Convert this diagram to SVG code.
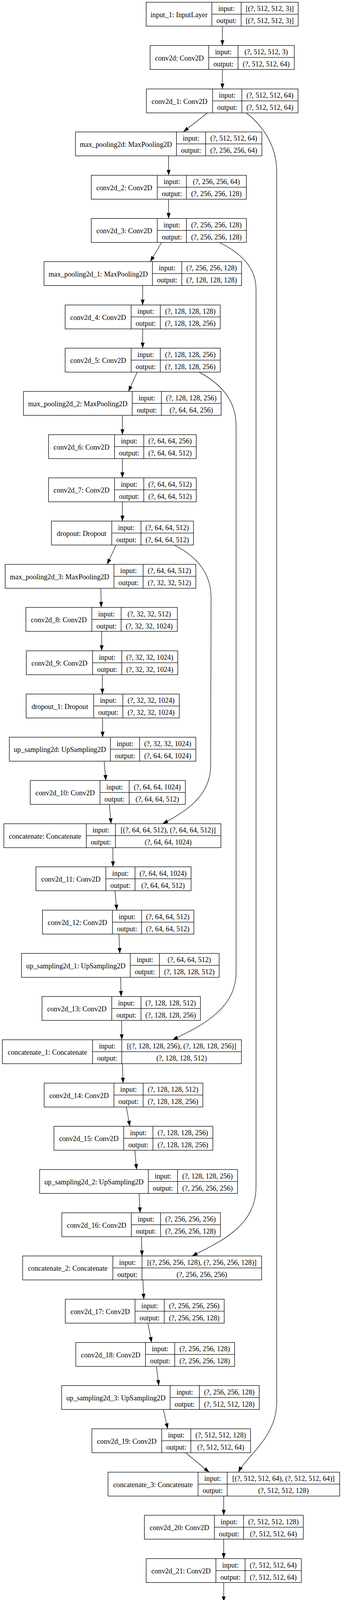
<svg xmlns="http://www.w3.org/2000/svg" width="875" height="4279" viewBox="0 0 875 4279">
<defs>
<marker id="ah" viewBox="0 0 14 10" refX="14" refY="5" markerWidth="14" markerHeight="10" markerUnits="userSpaceOnUse" orient="auto"><path d="M0,0L14,5L0,10z" fill="#000"/></marker>
<style>
.n rect{fill:#fff;stroke:#000;stroke-width:1.3}
.n path{fill:none;stroke:#000;stroke-width:1.3}
.n text{font-family:"Liberation Serif","Times New Roman",serif;font-size:18.2px;text-anchor:middle;fill:#000}
.e path{fill:none;stroke:#000;stroke-width:1.2;marker-end:url(#ah)}
</style>
</defs>
<rect width="875" height="4279" fill="#fff"/>
<g id="edges" class="e">
<path d="M569,67.3L569,116.5"/>
<path d="M569,178L569,227.7"/>
<path d="M531,289L469.3,337.3"/>
<path d="M630,289C670,320 708,370 708,440L708,3590C708,3680 628,3730 610.4,3768.7"/>
<path d="M431.4,399L431.4,448.7"/>
<path d="M431.4,510L431.4,559.3"/>
<path d="M413.5,620.7L384.6,669.7"/>
<path d="M561.3,620.7C610,645 655,680 655,740L655,3040C655,3140 560,3180 491.6,3215.3"/>
<path d="M365,731L365,780.7"/>
<path d="M365,842L365,891.3"/>
<path d="M351,952.6L328.8,1002"/>
<path d="M509.4,952.6C560,980 604,1020 604,1090L604,2490C604,2580 520,2625 441.4,2661.7"/>
<path d="M313.2,1063.3L313.2,1112.7"/>
<path d="M313.2,1174L313.2,1223.3"/>
<path d="M313.2,1284.6L313.2,1334"/>
<path d="M297,1395.3L274.2,1444.7"/>
<path d="M445.3,1395.3C495,1420 540,1460 540,1530L539,1960C539,2040 470,2080 416.3,2108.7"/>
<path d="M258,1506L259,1555"/>
<path d="M260.2,1616.3L260.2,1666"/>
<path d="M261.9,1727.3L261.9,1776.7"/>
<path d="M262.5,1838L262.5,1887.3"/>
<path d="M266.4,1948.6L270.8,1998"/>
<path d="M279.8,2059.3L284.2,2108.7"/>
<path d="M288.7,2170L289.2,2219"/>
<path d="M294.2,2280.3L298.7,2330"/>
<path d="M304.3,2391.3L306.5,2440.7"/>
<path d="M308.7,2502L309.9,2551"/>
<path d="M311,2612.3L311.5,2661.7"/>
<path d="M313.2,2723L314.9,2772.7"/>
<path d="M323.2,2834L332.2,2883.3"/>
<path d="M345,2944.6L349.4,2994"/>
<path d="M356,3055.3L358.4,3104.7"/>
<path d="M361.7,3166L363.4,3215.3"/>
<path d="M365.6,3276.6L367.8,3326"/>
<path d="M378.4,3387.3L387.9,3436.7"/>
<path d="M400.2,3498L406.3,3547"/>
<path d="M418,3608.3L429.2,3657.7"/>
<path d="M474.9,3719L535,3768.7"/>
<path d="M572.4,3830L572.4,3879"/>
<path d="M572.4,3940.3L572.4,3990"/>
<path d="M572.4,4051.3L572.4,4100.7"/>
<path d="M572.4,4162L572.4,4211.3"/>
</g>
<g id="input_1" class="n" transform="translate(374,5.7)"><rect width="389" height="61.3"/><path d="M168,0V61.3M243,0V61.3M168,30.65H389"/><text x="84" y="38.2">input_1: InputLayer</text><text x="205.5" y="22.8">input:</text><text x="205.5" y="53.5">output:</text><text x="316" y="22.8">[(?, 512, 512, 3)]</text><text x="316" y="53.5">[(?, 512, 512, 3)]</text></g>
<g id="conv2d" class="n" transform="translate(384,116.5)"><rect width="369" height="61.3"/><path d="M150,0V61.3M225,0V61.3M150,30.65H369"/><text x="75" y="38.2">conv2d: Conv2D</text><text x="187.5" y="22.8">input:</text><text x="187.5" y="53.5">output:</text><text x="297" y="22.8">(?, 512, 512, 3)</text><text x="297" y="53.5">(?, 512, 512, 64)</text></g>
<g id="conv2d_1" class="n" transform="translate(374.5,227.7)"><rect width="388" height="61.3"/><path d="M169.5,0V61.3M244.2,0V61.3M169.5,30.65H388"/><text x="84.75" y="38.2">conv2d_1: Conv2D</text><text x="206.85" y="22.8">input:</text><text x="206.85" y="53.5">output:</text><text x="316.1" y="22.8">(?, 512, 512, 64)</text><text x="316.1" y="53.5">(?, 512, 512, 64)</text></g>
<g id="max_pooling2d" class="n" transform="translate(193,337.7)"><rect width="477" height="61.3"/><path d="M258.5,0V61.3M333,0V61.3M258.5,30.65H477"/><text x="129.25" y="38.2">max_pooling2d: MaxPooling2D</text><text x="295.75" y="22.8">input:</text><text x="295.75" y="53.5">output:</text><text x="405" y="22.8">(?, 512, 512, 64)</text><text x="405" y="53.5">(?, 256, 256, 64)</text></g>
<g id="conv2d_2" class="n" transform="translate(233.5,448.7)"><rect width="396.9" height="61.3"/><path d="M168.9,0V61.3M243.5,0V61.3M168.9,30.65H396.9"/><text x="84.45" y="38.2">conv2d_2: Conv2D</text><text x="206.2" y="22.8">input:</text><text x="206.2" y="53.5">output:</text><text x="320.2" y="22.8">(?, 256, 256, 64)</text><text x="320.2" y="53.5">(?, 256, 256, 128)</text></g>
<g id="conv2d_3" class="n" transform="translate(233.5,559.3)"><rect width="396.9" height="61.3"/><path d="M168.9,0V61.3M243.5,0V61.3M168.9,30.65H396.9"/><text x="84.45" y="38.2">conv2d_3: Conv2D</text><text x="206.2" y="22.8">input:</text><text x="206.2" y="53.5">output:</text><text x="320.2" y="22.8">(?, 256, 256, 128)</text><text x="320.2" y="53.5">(?, 256, 256, 128)</text></g>
<g id="max_pooling2d_1" class="n" transform="translate(112.5,669.7)"><rect width="505.5" height="61.3"/><path d="M277.5,0V61.3M352.5,0V61.3M277.5,30.65H505.5"/><text x="138.75" y="38.2">max_pooling2d_1: MaxPooling2D</text><text x="315" y="22.8">input:</text><text x="315" y="53.5">output:</text><text x="429" y="22.8">(?, 256, 256, 128)</text><text x="429" y="53.5">(?, 128, 128, 128)</text></g>
<g id="conv2d_4" class="n" transform="translate(166.6,780.7)"><rect width="396.9" height="61.3"/><path d="M168.9,0V61.3M243.6,0V61.3M168.9,30.65H396.9"/><text x="84.45" y="38.2">conv2d_4: Conv2D</text><text x="206.25" y="22.8">input:</text><text x="206.25" y="53.5">output:</text><text x="320.25" y="22.8">(?, 128, 128, 128)</text><text x="320.25" y="53.5">(?, 128, 128, 256)</text></g>
<g id="conv2d_5" class="n" transform="translate(166.6,891.3)"><rect width="396.9" height="61.3"/><path d="M168.9,0V61.3M243.6,0V61.3M168.9,30.65H396.9"/><text x="84.45" y="38.2">conv2d_5: Conv2D</text><text x="206.25" y="22.8">input:</text><text x="206.25" y="53.5">output:</text><text x="320.25" y="22.8">(?, 128, 128, 256)</text><text x="320.25" y="53.5">(?, 128, 128, 256)</text></g>
<g id="max_pooling2d_2" class="n" transform="translate(60,1002)"><rect width="505.7" height="61.3"/><path d="M278.3,0V61.3M353,0V61.3M278.3,30.65H505.7"/><text x="139.15" y="38.2">max_pooling2d_2: MaxPooling2D</text><text x="315.65" y="22.8">input:</text><text x="315.65" y="53.5">output:</text><text x="429.35" y="22.8">(?, 128, 128, 256)</text><text x="429.35" y="53.5">(?, 64, 64, 256)</text></g>
<g id="conv2d_6" class="n" transform="translate(124.2,1112.7)"><rect width="378" height="61.3"/><path d="M168.8,0V61.3M243.6,0V61.3M168.8,30.65H378"/><text x="84.4" y="38.2">conv2d_6: Conv2D</text><text x="206.2" y="22.8">input:</text><text x="206.2" y="53.5">output:</text><text x="310.8" y="22.8">(?, 64, 64, 256)</text><text x="310.8" y="53.5">(?, 64, 64, 512)</text></g>
<g id="conv2d_7" class="n" transform="translate(124.2,1223.3)"><rect width="378" height="61.3"/><path d="M168.8,0V61.3M243.6,0V61.3M168.8,30.65H378"/><text x="84.4" y="38.2">conv2d_7: Conv2D</text><text x="206.2" y="22.8">input:</text><text x="206.2" y="53.5">output:</text><text x="310.8" y="22.8">(?, 64, 64, 512)</text><text x="310.8" y="53.5">(?, 64, 64, 512)</text></g>
<g id="dropout" class="n" transform="translate(131.5,1334)"><rect width="363.5" height="61.3"/><path d="M154.4,0V61.3M229.1,0V61.3M154.4,30.65H363.5"/><text x="77.2" y="38.2">dropout: Dropout</text><text x="191.75" y="22.8">input:</text><text x="191.75" y="53.5">output:</text><text x="296.3" y="22.8">(?, 64, 64, 512)</text><text x="296.3" y="53.5">(?, 64, 64, 512)</text></g>
<g id="max_pooling2d_3" class="n" transform="translate(13.3,1444.7)"><rect width="487.7" height="61.3"/><path d="M278.2,0V61.3M352.9,0V61.3M278.2,30.65H487.7"/><text x="139.1" y="38.2">max_pooling2d_3: MaxPooling2D</text><text x="315.55" y="22.8">input:</text><text x="315.55" y="53.5">output:</text><text x="420.3" y="22.8">(?, 64, 64, 512)</text><text x="420.3" y="53.5">(?, 32, 32, 512)</text></g>
<g id="conv2d_8" class="n" transform="translate(66.2,1555)"><rect width="387.5" height="61.3"/><path d="M168.8,0V61.3M243.7,0V61.3M168.8,30.65H387.5"/><text x="84.4" y="38.2">conv2d_8: Conv2D</text><text x="206.25" y="22.8">input:</text><text x="206.25" y="53.5">output:</text><text x="315.6" y="22.8">(?, 32, 32, 512)</text><text x="315.6" y="53.5">(?, 32, 32, 1024)</text></g>
<g id="conv2d_9" class="n" transform="translate(67.3,1666)"><rect width="387.5" height="61.3"/><path d="M169.5,0V61.3M244.2,0V61.3M169.5,30.65H387.5"/><text x="84.75" y="38.2">conv2d_9: Conv2D</text><text x="206.85" y="22.8">input:</text><text x="206.85" y="53.5">output:</text><text x="315.85" y="22.8">(?, 32, 32, 1024)</text><text x="315.85" y="53.5">(?, 32, 32, 1024)</text></g>
<g id="dropout_1" class="n" transform="translate(66.8,1776.7)"><rect width="391.9" height="61.3"/><path d="M172.8,0V61.3M247.5,0V61.3M172.8,30.65H391.9"/><text x="86.4" y="38.2">dropout_1: Dropout</text><text x="210.15" y="22.8">input:</text><text x="210.15" y="53.5">output:</text><text x="319.7" y="22.8">(?, 32, 32, 1024)</text><text x="319.7" y="53.5">(?, 32, 32, 1024)</text></g>
<g id="up_sampling2d" class="n" transform="translate(23.9,1887.3)"><rect width="477.1" height="61.3"/><path d="M258.6,0V61.3M333.3,0V61.3M258.6,30.65H477.1"/><text x="129.3" y="38.2">up_sampling2d: UpSampling2D</text><text x="295.95" y="22.8">input:</text><text x="295.95" y="53.5">output:</text><text x="405.2" y="22.8">(?, 32, 32, 1024)</text><text x="405.2" y="53.5">(?, 64, 64, 1024)</text></g>
<g id="conv2d_10" class="n" transform="translate(77.4,1998)"><rect width="396.9" height="61.3"/><path d="M178.4,0V61.3M253.1,0V61.3M178.4,30.65H396.9"/><text x="89.2" y="38.2">conv2d_10: Conv2D</text><text x="215.75" y="22.8">input:</text><text x="215.75" y="53.5">output:</text><text x="325" y="22.8">(?, 64, 64, 1024)</text><text x="325" y="53.5">(?, 64, 64, 512)</text></g>
<g id="concatenate" class="n" transform="translate(9.9,2108.7)"><rect width="555.3" height="61.3"/><path d="M210.8,0V61.3M285.5,0V61.3M210.8,30.65H555.3"/><text x="105.4" y="38.2">concatenate: Concatenate</text><text x="248.15" y="22.8">input:</text><text x="248.15" y="53.5">output:</text><text x="420.4" y="22.8">[(?, 64, 64, 512), (?, 64, 64, 512)]</text><text x="420.4" y="53.5">(?, 64, 64, 1024)</text></g>
<g id="conv2d_11" class="n" transform="translate(91.9,2219)"><rect width="396.9" height="61.3"/><path d="M178.9,0V61.3M253.6,0V61.3M178.9,30.65H396.9"/><text x="89.45" y="38.2">conv2d_11: Conv2D</text><text x="216.25" y="22.8">input:</text><text x="216.25" y="53.5">output:</text><text x="325.25" y="22.8">(?, 64, 64, 1024)</text><text x="325.25" y="53.5">(?, 64, 64, 512)</text></g>
<g id="conv2d_12" class="n" transform="translate(108.6,2330)"><rect width="387.4" height="61.3"/><path d="M179,0V61.3M253.7,0V61.3M179,30.65H387.4"/><text x="89.5" y="38.2">conv2d_12: Conv2D</text><text x="216.35" y="22.8">input:</text><text x="216.35" y="53.5">output:</text><text x="320.55" y="22.8">(?, 64, 64, 512)</text><text x="320.55" y="53.5">(?, 64, 64, 512)</text></g>
<g id="up_sampling2d_1" class="n" transform="translate(55,2440.7)"><rect width="505.7" height="61.3"/><path d="M278.3,0V61.3M353,0V61.3M278.3,30.65H505.7"/><text x="139.15" y="38.2">up_sampling2d_1: UpSampling2D</text><text x="315.65" y="22.8">input:</text><text x="315.65" y="53.5">output:</text><text x="429.35" y="22.8">(?, 64, 64, 512)</text><text x="429.35" y="53.5">(?, 128, 128, 512)</text></g>
<g id="conv2d_13" class="n" transform="translate(107.5,2551)"><rect width="405.3" height="61.3"/><path d="M178.4,0V61.3M253.1,0V61.3M178.4,30.65H405.3"/><text x="89.2" y="38.2">conv2d_13: Conv2D</text><text x="215.75" y="22.8">input:</text><text x="215.75" y="53.5">output:</text><text x="329.2" y="22.8">(?, 128, 128, 512)</text><text x="329.2" y="53.5">(?, 128, 128, 256)</text></g>
<g id="concatenate_1" class="n" transform="translate(6,2661.7)"><rect width="611.6" height="61.3"/><path d="M230.8,0V61.3M305.5,0V61.3M230.8,30.65H611.6"/><text x="115.4" y="38.2">concatenate_1: Concatenate</text><text x="268.15" y="22.8">input:</text><text x="268.15" y="53.5">output:</text><text x="458.55" y="22.8">[(?, 128, 128, 256), (?, 128, 128, 256)]</text><text x="458.55" y="53.5">(?, 128, 128, 512)</text></g>
<g id="conv2d_14" class="n" transform="translate(113,2772.7)"><rect width="406" height="61.3"/><path d="M178.5,0V61.3M253.2,0V61.3M178.5,30.65H406"/><text x="89.25" y="38.2">conv2d_14: Conv2D</text><text x="215.85" y="22.8">input:</text><text x="215.85" y="53.5">output:</text><text x="329.6" y="22.8">(?, 128, 128, 512)</text><text x="329.6" y="53.5">(?, 128, 128, 256)</text></g>
<g id="conv2d_15" class="n" transform="translate(138,2883.3)"><rect width="406.6" height="61.3"/><path d="M178.5,0V61.3M253.3,0V61.3M178.5,30.65H406.6"/><text x="89.25" y="38.2">conv2d_15: Conv2D</text><text x="215.9" y="22.8">input:</text><text x="215.9" y="53.5">output:</text><text x="329.95" y="22.8">(?, 128, 128, 256)</text><text x="329.95" y="53.5">(?, 128, 128, 256)</text></g>
<g id="up_sampling2d_2" class="n" transform="translate(101.4,2994)"><rect width="506.2" height="61.3"/><path d="M278.1,0V61.3M352.9,0V61.3M278.1,30.65H506.2"/><text x="139.05" y="38.2">up_sampling2d_2: UpSampling2D</text><text x="315.5" y="22.8">input:</text><text x="315.5" y="53.5">output:</text><text x="429.55" y="22.8">(?, 128, 128, 256)</text><text x="429.55" y="53.5">(?, 256, 256, 256)</text></g>
<g id="conv2d_16" class="n" transform="translate(158.2,3104.7)"><rect width="405.8" height="61.3"/><path d="M177.8,0V61.3M252.6,0V61.3M177.8,30.65H405.8"/><text x="88.9" y="38.2">conv2d_16: Conv2D</text><text x="215.2" y="22.8">input:</text><text x="215.2" y="53.5">output:</text><text x="329.2" y="22.8">(?, 256, 256, 256)</text><text x="329.2" y="53.5">(?, 256, 256, 128)</text></g>
<g id="concatenate_2" class="n" transform="translate(57.9,3215.3)"><rect width="611.5" height="61.3"/><path d="M230.8,0V61.3M305.5,0V61.3M230.8,30.65H611.5"/><text x="115.4" y="38.2">concatenate_2: Concatenate</text><text x="268.15" y="22.8">input:</text><text x="268.15" y="53.5">output:</text><text x="458.5" y="22.8">[(?, 256, 256, 128), (?, 256, 256, 128)]</text><text x="458.5" y="53.5">(?, 256, 256, 256)</text></g>
<g id="conv2d_17" class="n" transform="translate(167,3326)"><rect width="406.6" height="61.3"/><path d="M178.5,0V61.3M253.2,0V61.3M178.5,30.65H406.6"/><text x="89.25" y="38.2">conv2d_17: Conv2D</text><text x="215.85" y="22.8">input:</text><text x="215.85" y="53.5">output:</text><text x="329.9" y="22.8">(?, 256, 256, 256)</text><text x="329.9" y="53.5">(?, 256, 256, 128)</text></g>
<g id="conv2d_18" class="n" transform="translate(193.9,3436.7)"><rect width="406.4" height="61.3"/><path d="M178.4,0V61.3M253.1,0V61.3M178.4,30.65H406.4"/><text x="89.2" y="38.2">conv2d_18: Conv2D</text><text x="215.75" y="22.8">input:</text><text x="215.75" y="53.5">output:</text><text x="329.75" y="22.8">(?, 256, 256, 128)</text><text x="329.75" y="53.5">(?, 256, 256, 128)</text></g>
<g id="up_sampling2d_3" class="n" transform="translate(157.7,3547)"><rect width="505.6" height="61.3"/><path d="M277.6,0V61.3M352.3,0V61.3M277.6,30.65H505.6"/><text x="138.8" y="38.2">up_sampling2d_3: UpSampling2D</text><text x="314.95" y="22.8">input:</text><text x="314.95" y="53.5">output:</text><text x="428.95" y="22.8">(?, 256, 256, 128)</text><text x="428.95" y="53.5">(?, 512, 512, 128)</text></g>
<g id="conv2d_19" class="n" transform="translate(235,3657.7)"><rect width="406" height="61.3"/><path d="M178.6,0V61.3M253.3,0V61.3M178.6,30.65H406"/><text x="89.3" y="38.2">conv2d_19: Conv2D</text><text x="215.95" y="22.8">input:</text><text x="215.95" y="53.5">output:</text><text x="329.65" y="22.8">(?, 512, 512, 128)</text><text x="329.65" y="53.5">(?, 512, 512, 64)</text></g>
<g id="concatenate_3" class="n" transform="translate(276.4,3768.7)"><rect width="592.6" height="61.3"/><path d="M230.3,0V61.3M305,0V61.3M230.3,30.65H592.6"/><text x="115.15" y="38.2">concatenate_3: Concatenate</text><text x="267.65" y="22.8">input:</text><text x="267.65" y="53.5">output:</text><text x="448.8" y="22.8">[(?, 512, 512, 64), (?, 512, 512, 64)]</text><text x="448.8" y="53.5">(?, 512, 512, 128)</text></g>
<g id="conv2d_20" class="n" transform="translate(369.5,3879)"><rect width="406.5" height="61.3"/><path d="M179,0V61.3M253.7,0V61.3M179,30.65H406.5"/><text x="89.5" y="38.2">conv2d_20: Conv2D</text><text x="216.35" y="22.8">input:</text><text x="216.35" y="53.5">output:</text><text x="330.1" y="22.8">(?, 512, 512, 128)</text><text x="330.1" y="53.5">(?, 512, 512, 64)</text></g>
<g id="conv2d_21" class="n" transform="translate(374,3990)"><rect width="397" height="61.3"/><path d="M178.4,0V61.3M253,0V61.3M178.4,30.65H397"/><text x="89.2" y="38.2">conv2d_21: Conv2D</text><text x="215.7" y="22.8">input:</text><text x="215.7" y="53.5">output:</text><text x="325" y="22.8">(?, 512, 512, 64)</text><text x="325" y="53.5">(?, 512, 512, 64)</text></g>
<g id="conv2d_22" class="n" transform="translate(374,4100.7)"><rect width="397" height="61.3"/><path d="M178.4,0V61.3M253,0V61.3M178.4,30.65H397"/><text x="89.2" y="38.2">conv2d_22: Conv2D</text><text x="215.7" y="22.8">input:</text><text x="215.7" y="53.5">output:</text><text x="325" y="22.8">(?, 512, 512, 64)</text><text x="325" y="53.5">(?, 512, 512, 2)</text></g>
<g id="conv2d_23" class="n" transform="translate(379,4211.3)"><rect width="387.5" height="61.3"/><path d="M178.4,0V61.3M253,0V61.3M178.4,30.65H387.5"/><text x="89.2" y="38.2">conv2d_23: Conv2D</text><text x="215.7" y="22.8">input:</text><text x="215.7" y="53.5">output:</text><text x="320.25" y="22.8">(?, 512, 512, 2)</text><text x="320.25" y="53.5">(?, 512, 512, 2)</text></g>
</svg>
